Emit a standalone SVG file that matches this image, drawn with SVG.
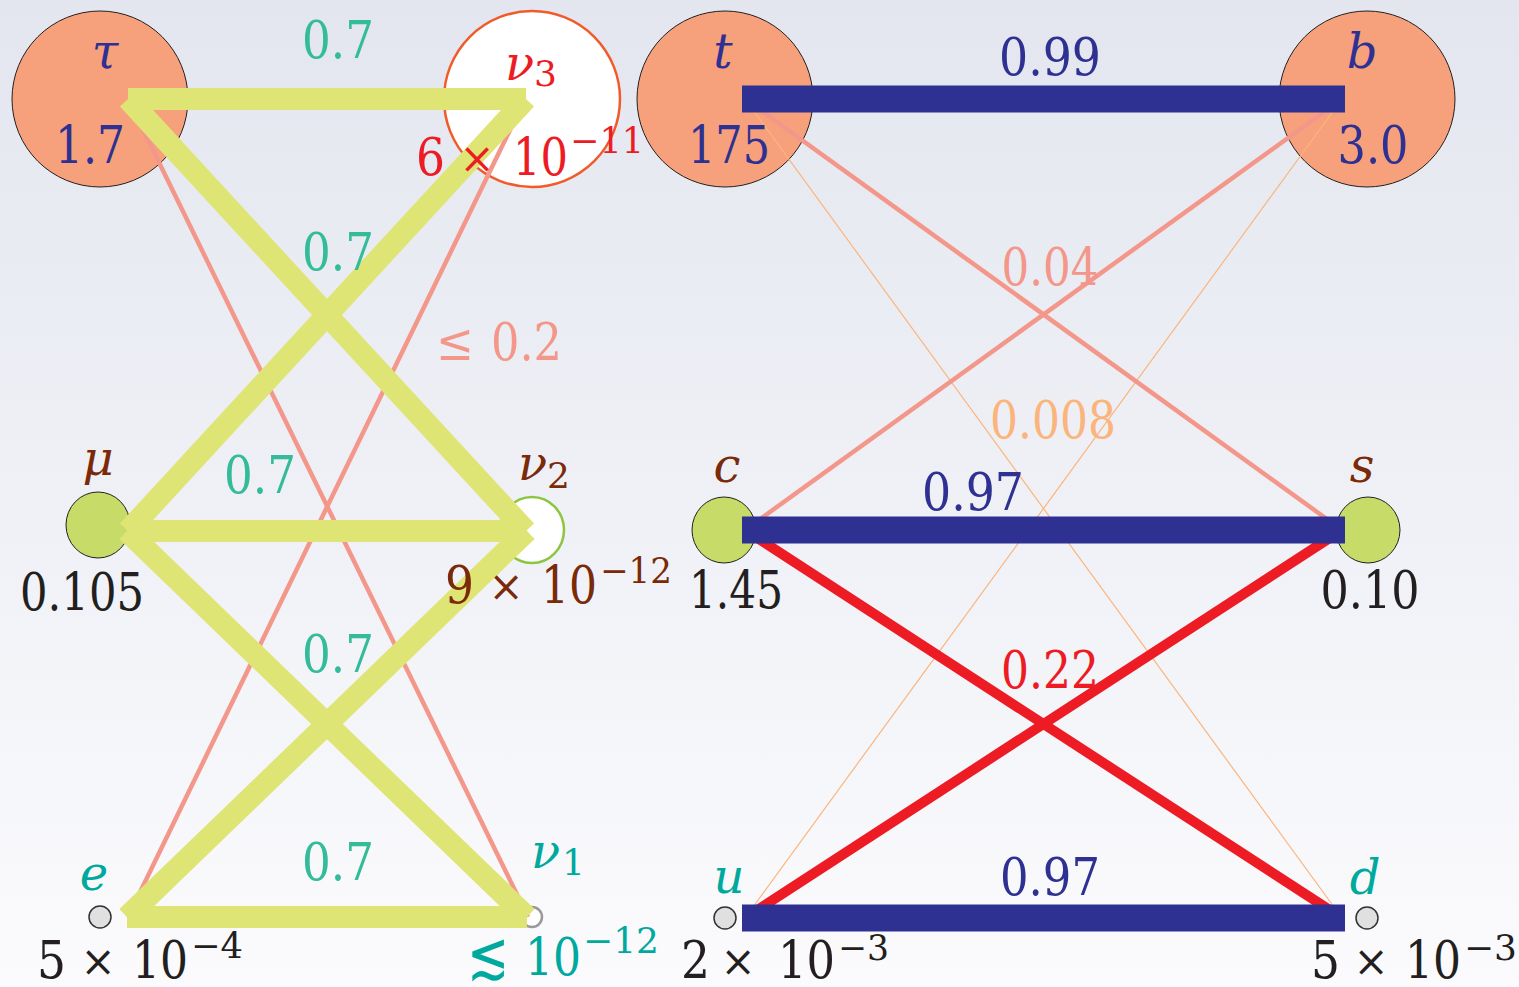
<svg xmlns="http://www.w3.org/2000/svg" width="1519" height="987" viewBox="0 0 1519 987">
<defs>
<linearGradient id="bg" x1="0" y1="0" x2="0" y2="1">
<stop offset="0" stop-color="#e3e6ef"/>
<stop offset="1" stop-color="#fbfbfd"/>
</linearGradient>
<style>
text{font-family:"DejaVu Serif",serif;font-size:52px}
.it{font-style:italic;font-size:48px}
.sm{font-size:36px}
.x{font-size:42px;text-anchor:middle}
.lsim{font-size:66px}
.mid{text-anchor:middle}
.big{fill:#f6a07c;stroke:#231f20;stroke-width:1}
.grn{fill:#c6db68;stroke:#231f20;stroke-width:1}
.dot{fill:#e0e0e0;stroke:#333;stroke-width:1.5}
.y{stroke:#dfe574;stroke-width:22}
.pk{stroke:#f4978b;stroke-width:4.5}
.or{stroke:#fbb57c;stroke-width:1.2}
.rd{stroke:#ed1c24;stroke-width:10}
.bl{stroke:#2e3192;stroke-width:27}
.cb{fill:#2e3192}
.cr{fill:#ed1c24}
.cbr{fill:#7a2a08}
.ck{fill:#231f20}
.ct{fill:#00a99d}
.cg{fill:#33bb9a}
.cs{fill:#f4978b}
.co{fill:#fbb57c}
</style>
</defs>
<rect x="0" y="0" width="1519" height="987" fill="url(#bg)"/>

<g id="nodes">
<g id="tau"><ellipse cx="100" cy="99" rx="88" ry="88" class="big"/></g>
<g id="nu3"><ellipse cx="532" cy="99" rx="88" ry="88" fill="#fff" stroke="#f15a29" stroke-width="2.5"/></g>
<g id="t"><ellipse cx="725" cy="99" rx="88" ry="88" class="big"/></g>
<g id="b"><ellipse cx="1367" cy="99" rx="88" ry="88" class="big"/></g>
<g id="mu"><ellipse cx="98" cy="525" rx="32" ry="33" class="grn"/></g>
<g id="nu2"><ellipse cx="532" cy="530" rx="32" ry="33" fill="#fff" stroke="#8cc63f" stroke-width="2.5"/></g>
<g id="c"><ellipse cx="724" cy="530" rx="32" ry="33" class="grn"/></g>
<g id="s"><ellipse cx="1368" cy="530" rx="32" ry="33" class="grn"/></g>
<g id="e"><ellipse cx="100" cy="917" rx="11" ry="11" class="dot"/></g>
<g id="nu1"><ellipse cx="532" cy="917" rx="10" ry="10" fill="#fff" stroke="#999" stroke-width="2.5"/></g>
<g id="u"><ellipse cx="725" cy="918" rx="11" ry="11" class="dot"/></g>
<g id="d"><ellipse cx="1367" cy="918" rx="11" ry="11" class="dot"/></g>
</g>

<g id="connectors">
<line x1="128" y1="99" x2="528" y2="917" class="pk"/>
<line x1="525" y1="99" x2="128" y2="917" class="pk"/>
<line x1="128" y1="99" x2="526" y2="99" class="y"/>
<line x1="128" y1="99" x2="526" y2="531" class="y"/>
<line x1="526" y1="99" x2="128" y2="531" class="y"/>
<line x1="127" y1="531" x2="527" y2="531" class="y"/>
<line x1="127" y1="531" x2="527" y2="917" class="y"/>
<line x1="527" y1="531" x2="127" y2="917" class="y"/>
<line x1="127" y1="917" x2="527" y2="917" class="y"/>

<line x1="745" y1="99" x2="1342" y2="918" class="or"/>
<line x1="1342" y1="99" x2="745" y2="918" class="or"/>
<line x1="745" y1="99" x2="1342" y2="530" class="pk"/>
<line x1="1342" y1="99" x2="745" y2="530" class="pk"/>
<line x1="745" y1="530" x2="1342" y2="918" class="rd"/>
<line x1="1342" y1="530" x2="745" y2="918" class="rd"/>
<line x1="742" y1="99" x2="1345" y2="99" class="bl"/>
<line x1="742" y1="530" x2="1345" y2="530" class="bl"/>
<line x1="742" y1="918" x2="1345" y2="918" class="bl"/>

<g id="edge-labels">
<text x="338" y="58" class="mid cg" textLength="72" lengthAdjust="spacingAndGlyphs">0.7</text>
<text x="338" y="270" class="mid cg" textLength="72" lengthAdjust="spacingAndGlyphs">0.7</text>
<text x="260" y="493" class="mid cg" textLength="72" lengthAdjust="spacingAndGlyphs">0.7</text>
<text x="338" y="672" class="mid cg" textLength="72" lengthAdjust="spacingAndGlyphs">0.7</text>
<text x="338" y="880" class="mid cg" textLength="72" lengthAdjust="spacingAndGlyphs">0.7</text>
<text x="436" y="360" class="cs" textLength="38" lengthAdjust="spacingAndGlyphs">≤</text>
<text x="491" y="360" class="cs" textLength="71" lengthAdjust="spacingAndGlyphs">0.2</text>
<text x="1050" y="75" class="mid cb" textLength="102" lengthAdjust="spacingAndGlyphs">0.99</text>
<text x="1050" y="285" class="mid cs" textLength="97" lengthAdjust="spacingAndGlyphs">0.04</text>
<text x="1053" y="438" class="mid co" textLength="126" lengthAdjust="spacingAndGlyphs">0.008</text>
<text x="973" y="510" class="mid cb" textLength="102" lengthAdjust="spacingAndGlyphs">0.97</text>
<text x="1050" y="688" class="mid cr" textLength="98" lengthAdjust="spacingAndGlyphs">0.22</text>
<text x="1050" y="895" class="mid cb" textLength="100" lengthAdjust="spacingAndGlyphs">0.97</text>
</g>
</g>

<g id="node-labels">
<g id="tau-label">
<text x="105" y="68" class="mid it cb">τ</text>
<text x="90" y="163" class="mid cb" textLength="70" lengthAdjust="spacingAndGlyphs">1.7</text>
</g>
<g id="nu3-label">
<text x="505" y="80" class="it cr">ν</text>
<text x="534" y="86" class="sm cr">3</text>
<text x="416" y="175" class="cr" textLength="29" lengthAdjust="spacingAndGlyphs">6</text>
<text x="477" y="173" class="x cr">×</text>
<text x="513" y="175" class="cr" textLength="55" lengthAdjust="spacingAndGlyphs">10</text>
<text x="570" y="153" class="sm cr" textLength="74" lengthAdjust="spacingAndGlyphs">−11</text>
</g>
<g id="t-label">
<text x="723" y="68" class="mid it cb">t</text>
<text x="729" y="163" class="mid cb" textLength="82" lengthAdjust="spacingAndGlyphs">175</text>
</g>
<g id="b-label">
<text x="1362" y="68" class="mid it cb">b</text>
<text x="1373" y="163" class="mid cb" textLength="71" lengthAdjust="spacingAndGlyphs">3.0</text>
</g>
<g id="mu-label">
<text x="98" y="475" class="mid it cbr">μ</text>
<text x="82" y="610" class="mid ck" textLength="124" lengthAdjust="spacingAndGlyphs">0.105</text>
</g>
<g id="nu2-label">
<text x="518" y="480" class="it cbr">ν</text>
<text x="547" y="488" class="sm cbr">2</text>
<text x="445" y="603" class="cbr" textLength="29" lengthAdjust="spacingAndGlyphs">9</text>
<text x="506" y="601" class="x cbr">×</text>
<text x="541" y="603" class="cbr" textLength="56" lengthAdjust="spacingAndGlyphs">10</text>
<text x="600" y="583" class="sm cbr" textLength="72" lengthAdjust="spacingAndGlyphs">−12</text>
</g>
<g id="c-label">
<text x="727" y="482" class="mid it cbr">c</text>
<text x="736" y="608" class="mid ck" textLength="94" lengthAdjust="spacingAndGlyphs">1.45</text>
</g>
<g id="s-label">
<text x="1362" y="482" class="mid it cbr">s</text>
<text x="1370" y="608" class="mid ck" textLength="99" lengthAdjust="spacingAndGlyphs">0.10</text>
</g>
<g id="e-label">
<text x="94" y="890" class="mid it ct">e</text>
<text x="37" y="978" class="ck" textLength="29" lengthAdjust="spacingAndGlyphs">5</text>
<text x="98" y="976" class="x ck">×</text>
<text x="132" y="978" class="ck" textLength="56" lengthAdjust="spacingAndGlyphs">10</text>
<text x="191" y="958" class="sm ck" textLength="52" lengthAdjust="spacingAndGlyphs">−4</text>
</g>
<g id="nu1-label">
<text x="531" y="868" class="it ct">ν</text>
<text x="562" y="875" class="sm ct">1</text>
<text x="467" y="978" class="lsim ct" textLength="42" lengthAdjust="spacingAndGlyphs">≲</text>
<text x="525" y="975" class="ct" textLength="56" lengthAdjust="spacingAndGlyphs">10</text>
<text x="583" y="953" class="sm ct" textLength="76" lengthAdjust="spacingAndGlyphs">−12</text>
</g>
<g id="u-label">
<text x="729" y="893" class="mid it ct">u</text>
<text x="681" y="978" class="ck" textLength="29" lengthAdjust="spacingAndGlyphs">2</text>
<text x="738" y="976" class="x ck">×</text>
<text x="778" y="978" class="ck" textLength="57" lengthAdjust="spacingAndGlyphs">10</text>
<text x="838" y="960" class="sm ck" textLength="51" lengthAdjust="spacingAndGlyphs">−3</text>
</g>
<g id="d-label">
<text x="1365" y="894" class="mid it ct">d</text>
<text x="1311" y="978" class="ck" textLength="29" lengthAdjust="spacingAndGlyphs">5</text>
<text x="1371" y="976" class="x ck">×</text>
<text x="1405" y="978" class="ck" textLength="56" lengthAdjust="spacingAndGlyphs">10</text>
<text x="1464" y="960" class="sm ck" textLength="53" lengthAdjust="spacingAndGlyphs">−3</text>
</g>
</g>
</svg>
